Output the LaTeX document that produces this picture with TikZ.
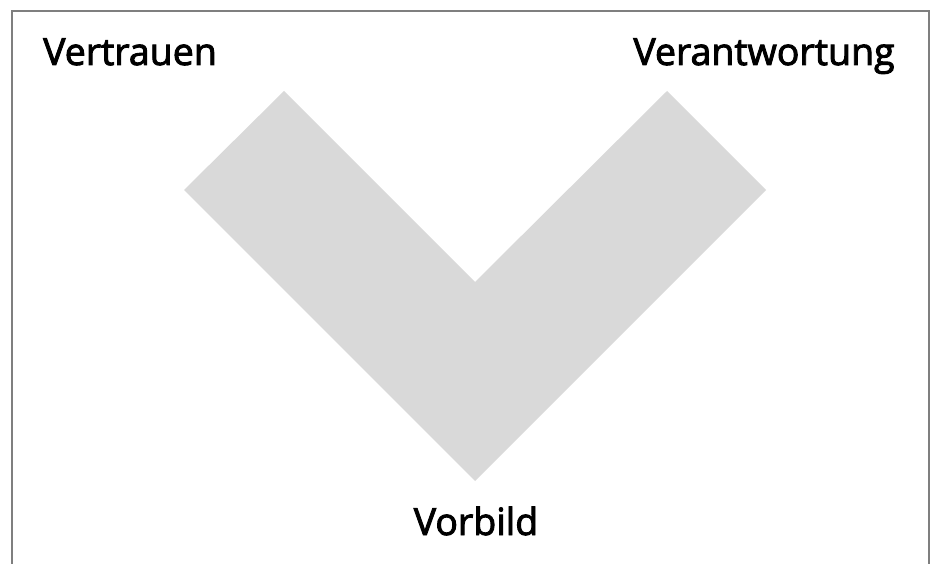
\documentclass[tikz,border=0pt]{standalone}
\usepackage{fontspec}
\setmainfont{Open Sans}[UprightFeatures={FakeBold=2.5}]
\usepackage{tikz}
\definecolor{vgray}{HTML}{D9D9D9}
\definecolor{framegray}{HTML}{7F7F7F}

\begin{document}
\begin{tikzpicture}[x=1pt, y=-1pt,
  value/.style={anchor=base, inner sep=0pt, font=\fontsize{37.5}{42}\selectfont}]
\useasboundingbox (0,0) rectangle (942,564);
% frame, open at the bottom
\draw[framegray, line width=2pt] (12,564) -- (12,11) -- (929,11) -- (929,564);
% the V
\fill[vgray] (184,190) -- (284,91) -- (475,282) -- (667,91) -- (766,190) -- (475,481) -- cycle;
\node[value] (vertrauen) at (130,65) {Vertrauen};
\node[value] (verantwortung) at (764,65) {Verantwortung};
\node[value] (vorbild) at (476,535) {Vorbild};
\end{tikzpicture}
\end{document}
